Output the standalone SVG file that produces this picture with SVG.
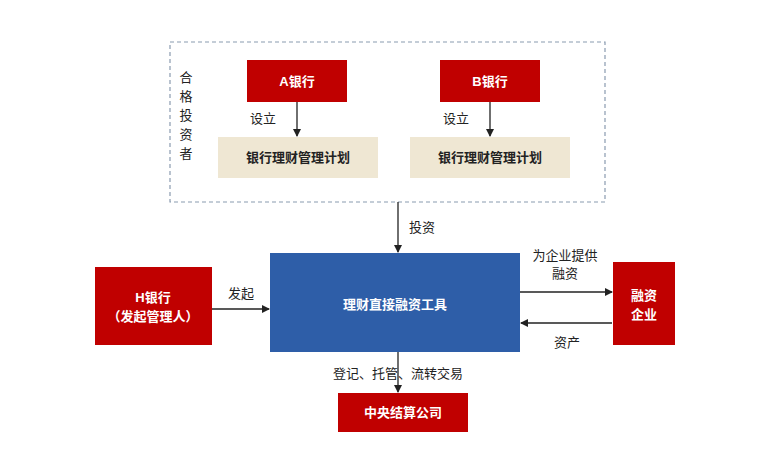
<svg xmlns="http://www.w3.org/2000/svg" width="775" height="459" viewBox="0 0 775 459">
<defs>
<marker id="ah" markerWidth="8" markerHeight="8" refX="7" refY="4" orient="auto" markerUnits="userSpaceOnUse"><path d="M0,0 L8,4 L0,8 z" fill="#222"/></marker>
<style>
.red{fill:#c00000}
.beige{fill:#efe7d3}
.wt{fill:#fff;font-family:"Liberation Sans","Noto Sans CJK SC",sans-serif;font-weight:bold;font-size:13px;text-anchor:middle}
.bt{fill:#222;font-family:"Liberation Sans","Noto Sans CJK SC",sans-serif;font-size:13px;text-anchor:middle}
.ln{stroke:#222;stroke-width:1.3;fill:none;marker-end:url(#ah)}
</style>
</defs>
<rect width="775" height="459" fill="#fff"/>
<rect x="170" y="42" width="435" height="160" fill="none" stroke="#8a9bb0" stroke-width="1.2" stroke-dasharray="4,3"/>
<g id="investor"><text class="bt" x="186" y="82">合</text><text class="bt" x="186" y="101">格</text><text class="bt" x="186" y="120">投</text><text class="bt" x="186" y="139">资</text><text class="bt" x="186" y="158">者</text></g>
<g id="abank"><rect class="red" x="247" y="60" width="100" height="42"/><text class="wt" x="297" y="86">A银行</text></g>
<g id="bbank"><rect class="red" x="440" y="60" width="100" height="42"/><text class="wt" x="490" y="86">B银行</text></g>
<g id="planA"><rect class="beige" x="218" y="137" width="160" height="41"/><text class="bt" x="298" y="162" font-weight="bold">银行理财管理计划</text></g>
<g id="planB"><rect class="beige" x="410" y="137" width="160" height="41"/><text class="bt" x="490" y="162" font-weight="bold">银行理财管理计划</text></g>
<g id="tool"><rect x="270" y="253" width="250" height="99" fill="#2e5ea8"/><text class="wt" x="395" y="309" font-size="18">理财直接融资工具</text></g>
<g id="hbank"><rect class="red" x="95" y="267" width="117" height="78"/><text class="wt" x="153" y="302">H银行</text><text class="wt" x="153" y="321">（发起管理人）</text></g>
<g id="firm"><rect class="red" x="613" y="262" width="62" height="83"/><text class="wt" x="644" y="300">融资</text><text class="wt" x="644" y="319">企业</text></g>
<g id="csd"><rect class="red" x="338" y="393" width="130" height="39"/><text class="wt" x="403" y="417">中央结算公司</text></g>
<g id="connectors">
<line class="ln" x1="297" y1="102" x2="297" y2="136"/>
<line class="ln" x1="490" y1="102" x2="490" y2="136"/>
<line class="ln" x1="398" y1="202" x2="398" y2="252"/>
<line class="ln" x1="212" y1="309" x2="269" y2="309"/>
<line class="ln" x1="520" y1="292" x2="612" y2="292"/>
<line class="ln" x1="612" y1="323" x2="521" y2="323"/>
<line class="ln" x1="398" y1="352" x2="398" y2="392"/>
<text class="bt" x="263" y="123">设立</text>
<text class="bt" x="456" y="123">设立</text>
<text class="bt" x="422" y="232">投资</text>
<text class="bt" x="241" y="298">发起</text>
<text class="bt" x="565" y="260">为企业提供</text>
<text class="bt" x="565" y="278">融资</text>
<text class="bt" x="567" y="347">资产</text>
<text class="bt" x="398" y="378">登记、托管、流转交易</text>
</g>
</svg>
